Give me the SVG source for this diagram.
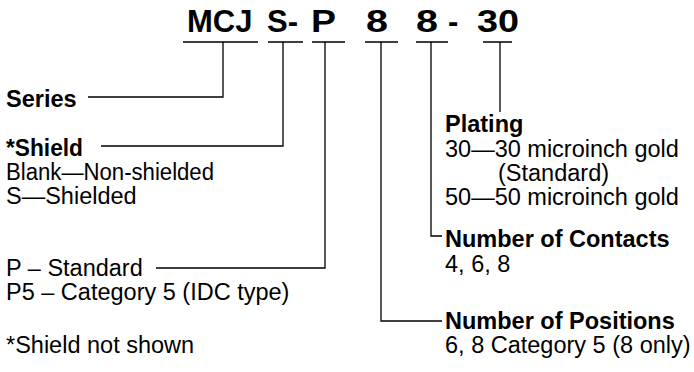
<svg xmlns="http://www.w3.org/2000/svg" width="694" height="372" viewBox="0 0 694 372">
<style>
.t{font-family:"Liberation Sans",Arial,sans-serif;font-size:23.5px;fill:#000}
.b{font-weight:bold}
.title{font-family:"Liberation Sans",Arial,sans-serif;font-size:31px;font-weight:bold;fill:#000}
.ln{stroke:#000;stroke-width:1.3;fill:none}
</style>
<rect width="694" height="372" fill="#fff"/>
<g id="title">
<text class="title" x="187" y="32">MCJ</text>
<text class="title" x="267" y="32">S-</text>
<text class="title" x="311" y="32" textLength="25" lengthAdjust="spacingAndGlyphs">P</text>
<text class="title" x="366" y="32" textLength="22" lengthAdjust="spacingAndGlyphs">8</text>
<text class="title" x="416" y="32" textLength="22" lengthAdjust="spacingAndGlyphs">8</text>
<text class="title" x="448" y="32">-</text>
<text class="title" x="477" y="32" textLength="42" lengthAdjust="spacingAndGlyphs">30</text>
</g>
<g id="connectors" class="ln">
<path d="M183 42H258M268 42H303M312 42H345M365 42H398M416 42H448M483 42H512"/>
<path d="M223 42V97H88"/>
<path d="M283 42V146H101"/>
<path d="M325 42V268H156"/>
<path d="M381 42V321H442"/>
<path d="M431 42V236H442"/>
<path d="M500 42V112"/>
</g>
<g id="series"><text class="t b" x="6" y="107">Series</text></g>
<g id="shield">
<text class="t b" x="6" y="156" textLength="77" lengthAdjust="spacingAndGlyphs">*Shield</text>
<text class="t" x="6" y="180" textLength="208" lengthAdjust="spacingAndGlyphs">Blank—Non-shielded</text>
<text class="t" x="6" y="204">S—Shielded</text>
</g>
<g id="type">
<text class="t" x="6" y="276">P – Standard</text>
<text class="t" x="6" y="300">P5 – Category 5 (IDC type)</text>
</g>
<g id="note"><text class="t" x="6" y="353">*Shield not shown</text></g>
<g id="plating">
<text class="t b" x="445" y="132">Plating</text>
<text class="t" x="445" y="157">30—30 microinch gold</text>
<text class="t" x="498" y="181">(Standard)</text>
<text class="t" x="445" y="205">50—50 microinch gold</text>
</g>
<g id="contacts">
<text class="t b" x="445" y="247">Number of Contacts</text>
<text class="t" x="445" y="272">4, 6, 8</text>
</g>
<g id="positions">
<text class="t b" x="445" y="329">Number of Positions</text>
<text class="t" x="445" y="353">6, 8 Category 5 (8 only)</text>
</g>
</svg>
